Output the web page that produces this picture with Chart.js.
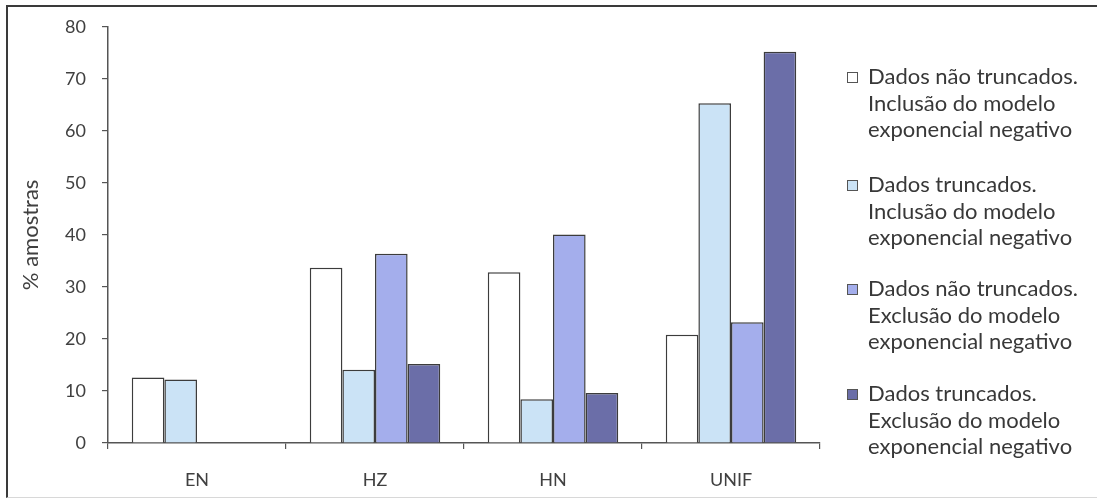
<!DOCTYPE html>
<html>
<head>
<meta charset="utf-8">
<script src="https://cdn.jsdelivr.net/npm/chart.js@4.4.1/dist/chart.umd.min.js"></script>
<style>
  html, body { margin: 0; padding: 0; background: #ffffff; }
  #wrap { position: relative; width: 1097px; height: 498px; overflow: hidden; background: #fff; }
  #frame { position: absolute; left: 6px; top: 5px; width: 1095px; height: 490px;
           border-top: 2px solid #3a3a3a; border-left: 2px solid #3a3a3a; border-bottom: 1px solid #d8d8d8; }
  canvas { position: absolute; left: 0; top: 0; }
  .leg { position: absolute; left: 847px; font-family: Lato, sans-serif; font-size: 22px; color: #383838; line-height: 26.5px; }
  .leg .sw { position: absolute; left: 0; top: 9px; width: 11px; height: 11px; border: 1px solid #555; box-sizing: border-box; }
  .leg .tx { position: absolute; left: 21px; top: 0; white-space: nowrap; }
</style>
</head>
<body>
<div id="wrap">
  <canvas id="c" width="1097" height="498"></canvas>
  <div id="frame"></div>
  <div id="legend"></div>
</div>
<script>
const categories = ['EN', 'HZ', 'HN', 'UNIF'];
const seriesNames = [
  ['Dados não truncados.', 'Inclusão do modelo', 'exponencial negativo'],
  ['Dados truncados.', 'Inclusão do modelo', 'exponencial negativo'],
  ['Dados não truncados.', 'Exclusão do modelo', 'exponencial negativo'],
  ['Dados truncados.', 'Exclusão do modelo', 'exponencial negativo']
];
const naoTruncInclusao = [12.6, 33.7, 32.8, 20.8];
const truncInclusao    = [12.2, 14.1, 8.4, 65.3];
const naoTruncExclusao = [null, 36.4, 40.1, 23.2];
const truncExclusao    = [null, 15.2, 9.6, 75.2];
const yTicks = [0, 10, 20, 30, 40, 50, 60, 70, 80];
const seriesColors = ['#ffffff', '#cbe3f6', '#a4aeec', '#6b6ea8'];

const seriesData = [naoTruncInclusao, truncInclusao, naoTruncExclusao, truncExclusao];

const datasets = seriesData.map((d, i) => ({
  label: seriesNames[i].join(' '),
  data: d,
  backgroundColor: seriesColors[i],
  borderColor: '#3c3c3c',
  borderWidth: 1.5,
  categoryPercentage: 0.733,
  barPercentage: 1.0
}));

const tickFont = { family: 'Lato, sans-serif', size: 18 };

new Chart(document.getElementById('c'), {
  type: 'bar',
  data: { labels: categories, datasets },
  options: {
    responsive: false,
    animation: false,
    events: [],
    layout: { padding: { left: 0, top: 26, right: 277, bottom: 0 } },
    plugins: { legend: { display: false }, tooltip: { enabled: false } },
    scales: {
      x: {
        offset: true,
        grid: { offset: true, drawOnChartArea: false, tickLength: 6, color: '#555', lineWidth: 1.2 },
        border: { color: '#555', width: 1.5 },
        ticks: { font: tickFont, color: '#404040', padding: 20, maxRotation: 0 },
        afterFit: s => { s.height = 55; }
      },
      y: {
        min: 0, max: 80,
        afterBuildTicks: s => { s.ticks = yTicks.map(v => ({ value: v })); },
        grid: { drawOnChartArea: false, tickLength: 6, color: '#555', lineWidth: 1.2 },
        border: { color: '#555', width: 1.5 },
        ticks: { font: tickFont, color: '#404040', padding: 16 },
        title: { display: true, text: '% amostras', font: { family: 'Lato, sans-serif', size: 22 }, color: '#404040', padding: { top: 18, bottom: 0 } },
        afterFit: s => { s.width = 108; }
      }
    }
  }
});

const legendTops = [63, 171, 275, 380];
const legendEl = document.getElementById('legend');
seriesNames.forEach((lines, i) => {
  const item = document.createElement('div');
  item.className = 'leg';
  item.style.top = legendTops[i] + 'px';
  const sw = document.createElement('div');
  sw.className = 'sw';
  sw.style.background = seriesColors[i];
  item.appendChild(sw);
  const tx = document.createElement('div');
  tx.className = 'tx';
  tx.innerHTML = lines.join('<br>');
  item.appendChild(tx);
  legendEl.appendChild(item);
});
</script>
</body>
</html>
